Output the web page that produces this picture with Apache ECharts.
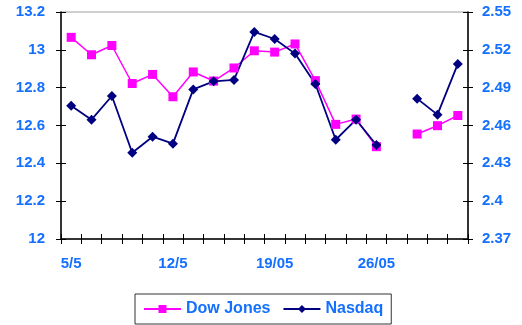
<!DOCTYPE html>
<html>
<head>
<meta charset="utf-8">
<script src="https://cdn.jsdelivr.net/npm/echarts@6/dist/echarts.min.js"></script>
<style>
  html, body { margin: 0; padding: 0; background: #fff; }
  #chart { width: 522px; height: 325px; }
</style>
</head>
<body>
<div id="chart"></div>
<script>
// Trading days, Dow Jones (thousands, left axis) and Nasdaq (thousands, right axis)
var days = ['5/5', '6/5', '7/5', '8/5', '9/5', '12/5', '13/5', '14/5', '15/5', '16/5',
            '19/05', '20/05', '21/05', '22/05', '23/05', '26/05', '27/05', '28/05', '29/05', '30/05'];
var dowJones = [13.066, 12.974, 13.023, 12.822, 12.870, 12.752, 12.883, 12.835, 12.904, 12.995,
                12.988, 13.031, 12.837, 12.606, 12.634, 12.488, null, 12.555, 12.599, 12.653];
var nasdaq = [2.4757, 2.4646, 2.4834, 2.4384, 2.4511, 2.4456, 2.4886, 2.4950, 2.4961, 2.5342,
              2.5286, 2.5170, 2.4929, 2.4487, 2.4646, 2.4445, null, 2.4813, 2.4686, 2.5088];
var leftTicks = { min: 12, max: 13.2, step: 0.2 };
var rightTicks = { min: 2.37, max: 2.55, step: 0.03 };

var blue = '#1470ff';
var font = { color: blue, fontWeight: 'bold', fontSize: 15, fontFamily: 'Liberation Sans, Arial, sans-serif' };

function yAx(r, pos, ticksInside, showLabel) {
  return {
    type: 'value', position: pos, min: r.min, max: r.max, interval: r.step,
    axisLine: { show: !ticksInside, lineStyle: { color: '#000', width: 1.5 } },
    axisTick: { show: true, inside: ticksInside, length: 5, lineStyle: { color: '#000', width: 1 } },
    splitLine: { show: false },
    axisLabel: Object.assign({ show: showLabel, margin: pos === 'left' ? 16 : 14,
      formatter: function (v) { return String(+v.toFixed(2)); } }, font)
  };
}
function xAx(ticksInside, showLabel) {
  return {
    type: 'category', position: 'bottom', data: days, boundaryGap: true,
    axisLine: { show: !ticksInside, lineStyle: { color: '#000', width: 1.5 } },
    axisTick: { show: true, inside: ticksInside, length: 5, interval: 0, lineStyle: { color: '#000', width: 1 } },
    axisLabel: Object.assign({ show: showLabel, interval: 4, margin: 17 }, font)
  };
}

var chart = echarts.init(document.getElementById('chart'), null, { renderer: 'canvas' });
chart.setOption({
  animation: false,
  backgroundColor: '#fff',
  grid: { left: 61, right: 54, top: 12, bottom: 86, show: true, borderColor: '#a0a0a0', borderWidth: 1, backgroundColor: 'transparent' },
  xAxis: [xAx(false, true), xAx(true, false)],
  yAxis: [yAx(leftTicks, 'left', false, true), yAx(rightTicks, 'right', false, true),
          yAx(leftTicks, 'left', true, false), yAx(rightTicks, 'right', true, false)],
  legend: {
    left: 135, top: 294,
    padding: [7, 8, 7, 8],
    itemGap: 12, itemWidth: 37, itemHeight: 10,
    borderColor: '#333', borderWidth: 1, backgroundColor: '#fff',
    textStyle: Object.assign({}, font, { fontSize: 16 }),
    data: ['Dow Jones', 'Nasdaq']
  },
  series: [
    {
      name: 'Dow Jones', type: 'line', xAxisIndex: 0, yAxisIndex: 0, data: dowJones,
      symbol: 'rect', symbolSize: 9, showSymbol: true,
      lineStyle: { color: '#ff00ff', width: 1.5 },
      itemStyle: { color: '#ff00ff' }
    },
    {
      name: 'Nasdaq', type: 'line', xAxisIndex: 0, yAxisIndex: 1, data: nasdaq,
      symbol: 'diamond', symbolSize: 10, showSymbol: true,
      lineStyle: { color: '#000080', width: 1.8 },
      itemStyle: { color: '#000080' }
    }
  ]
});
</script>
</body>
</html>
